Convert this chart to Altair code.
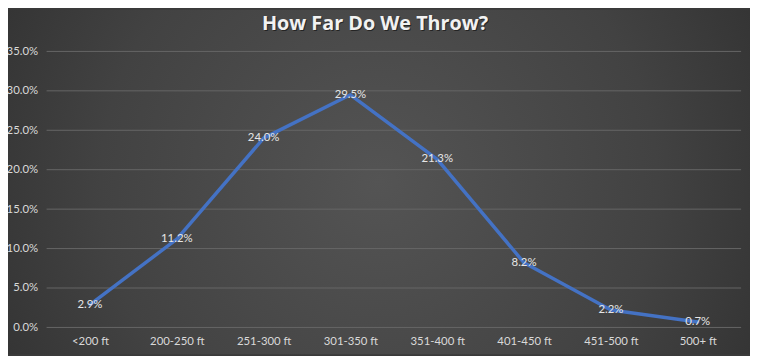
import altair as alt
import pandas as pd

categories = ["<200 ft", "200-250 ft", "251-300 ft", "301-350 ft",
              "351-400 ft", "401-450 ft", "451-500 ft", "500+ ft"]
shares = [0.029, 0.112, 0.240, 0.295, 0.213, 0.082, 0.022, 0.007]
y_ticks = [0.0, 0.05, 0.10, 0.15, 0.20, 0.25, 0.30, 0.35]
title_text = "How Far Do We Throw?"

df = pd.DataFrame({"range": categories, "share": shares})
grid_df = pd.DataFrame({"share": y_ticks})

W, H = 702, 279
PAD = {"left": 39, "top": 42, "right": 9, "bottom": 27}

bg_grad = alt.RadialGradient(
    gradient="radial",
    stops=[alt.GradientStop(color="#545454", offset=0),
           alt.GradientStop(color="#424242", offset=0.5),
           alt.GradientStop(color="#262626", offset=1)],
    x1=0.5, y1=0.5, r1=0, x2=0.5, y2=0.5, r2=0.75,
)

bg = alt.Chart(pd.DataFrame({"a": [0]})).mark_rect(fill=bg_grad).encode(
    x=alt.value(-PAD["left"]), x2=alt.value(W + PAD["right"]),
    y=alt.value(-PAD["top"]), y2=alt.value(H + PAD["bottom"]),
)

yscale = alt.Scale(domain=[0, 0.35], nice=False)

x = alt.X("range:N", sort=categories, title=None,
          scale=alt.Scale(paddingInner=0, paddingOuter=0),
          axis=alt.Axis(labelAngle=0, domain=False, ticks=False, grid=False,
                        labelPadding=8, labelColor="#d9d9d9", labelFont="Lato",
                        labelFontSize=11.5, labelOverlap=False, zindex=1))
y = alt.Y("share:Q", title=None, scale=yscale,
          axis=alt.Axis(values=y_ticks, format=".1%", domain=False, ticks=False,
                        grid=False, labelPadding=9, labelColor="#d9d9d9",
                        labelFont="Lato", labelFontSize=11.5,
                        labelOverlap=False, labelFlush=False, zindex=1))

grid = alt.Chart(grid_df).mark_rule(color="#666666", strokeWidth=1).encode(y=y)

line = alt.Chart(df).mark_line(color="#4472c4", strokeWidth=3.5,
                               strokeJoin="round", strokeCap="round").encode(x=x, y=y)

labels = alt.Chart(df).mark_text(color="#e6e6e6", font="Lato", fontSize=11.5,
                                 baseline="middle", align="center").encode(
    x=x, y=y,
    text=alt.Text("share:Q", format=".1%"),
)

tdf = pd.DataFrame({"t": [title_text]})
title_shadow = alt.Chart(tdf).mark_text(
    font="Open Sans", fontSize=20, fontWeight="bold", color="#000000",
    opacity=0.5, align="center", baseline="middle").encode(
    text="t:N", x=alt.value(333), y=alt.value(-26.5))
title = alt.Chart(tdf).mark_text(
    font="Open Sans", fontSize=20, fontWeight="bold", color="#f2f2f2",
    align="center", baseline="middle").encode(
    text="t:N", x=alt.value(332), y=alt.value(-28))

chart = alt.layer(bg, grid, line, labels, title_shadow, title).properties(
    width=W, height=H, padding=PAD,
    autosize=alt.AutoSizeParams(type="none"),
).configure(background="#3a3a3a").configure_view(stroke=None)

chart.save("out.html", embed_options={"renderer": "svg", "actions": False})
